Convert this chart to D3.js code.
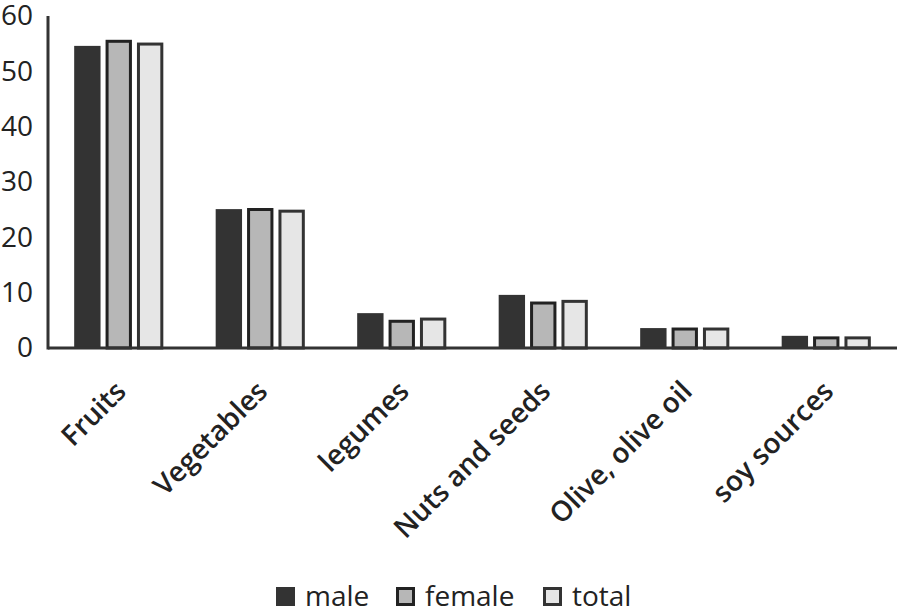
<!DOCTYPE html>
<html><head><meta charset="utf-8">
<script src="https://cdn.jsdelivr.net/npm/d3@7"></script>
<style>
html,body{margin:0;padding:0;background:#fff;}
svg{display:block;font-family:"Open Sans",sans-serif;}
</style></head>
<body>
<svg id="chart" width="904" height="616"></svg>
<script>
const categories = ["Fruits","Vegetables","legumes","Nuts and seeds","Olive, olive oil","soy sources"];
const seriesNames = ["male","female","total"];
const male   = [54.6, 25.1, 6.3, 9.6, 3.6, 2.2];
const female = [55.7, 25.3, 5.1, 8.4, 3.7, 2.1];
const total  = [55.2, 25.0, 5.5, 8.7, 3.7, 2.1];
const yTicks = [0,10,20,30,40,50,60];

const seriesValues = {male, female, total};
const fills   = {male:"#333333", female:"#b7b7b7", total:"#e6e6e6"};
const strokes = {male:"none", female:"#222222", total:"#333333"};

const svg = d3.select("#chart");
const mLeft = 48, mRight = 897, mTop = 16, mBottom = 348;

const x0 = d3.scaleBand().domain(categories).range([mLeft, mRight]).paddingInner(0.37).paddingOuter(0.185);
const x1 = d3.scaleBand().domain(seriesNames).range([0, x0.bandwidth()]).paddingInner(0.16).paddingOuter(0);
const y = d3.scaleLinear().domain([0,60]).range([mBottom, mTop]);

// bars
const g = svg.append("g");
categories.forEach((c,i)=>{
  seriesNames.forEach(s=>{
    const v = seriesValues[s][i];
    const sw = s==="male"?0:3;
    g.append("rect")
      .attr("x", x0(c)+x1(s)+sw/2)
      .attr("y", y(v)+sw/2)
      .attr("width", x1.bandwidth()-sw)
      .attr("height", y(0)-y(v)-sw/2)
      .attr("fill", fills[s])
      .attr("stroke", strokes[s])
      .attr("stroke-width", sw);
  });
});

// y axis labels
const yAxis = d3.axisLeft(y).tickValues(yTicks).tickSize(0).tickPadding(15);
const ya = svg.append("g").attr("transform",`translate(${mLeft},0)`).call(yAxis);
ya.select(".domain").remove();
ya.selectAll("text").attr("font-size",28).attr("fill","#222").attr("font-family","Open Sans");

// axis lines
svg.append("line").attr("x1",mLeft).attr("x2",mLeft).attr("y1",mTop).attr("y2",mBottom+1.5)
  .attr("stroke","#333").attr("stroke-width",3);
svg.append("line").attr("x1",mLeft).attr("x2",mRight).attr("y1",mBottom).attr("y2",mBottom)
  .attr("stroke","#333").attr("stroke-width",3);

// x labels
const xAxis = d3.axisBottom(x0).tickSize(0).tickPadding(0);
const xa = svg.append("g").attr("transform",`translate(0,${mBottom})`).call(xAxis);
xa.select(".domain").remove();
xa.selectAll("text")
  .attr("font-size",28).attr("font-weight",600).attr("fill","#222")
  .attr("font-family","Open Sans")
  .attr("text-anchor","end")
  .attr("dy",null).attr("y",null)
  .attr("transform","translate(9,45) rotate(-45)");

// legend
const legendX = {male:276, female:396, total:543};
const lg = svg.append("g");
seriesNames.forEach(s=>{
  const sw = s==="male"?0:3;
  lg.append("rect").attr("x",legendX[s]+sw/2).attr("y",587+sw/2)
    .attr("width",19-sw).attr("height",19-sw)
    .attr("fill",fills[s]).attr("stroke",strokes[s]).attr("stroke-width",sw);
  lg.append("text").attr("x",legendX[s]+29).attr("y",606)
    .attr("font-size",28).attr("fill","#222").text(s);
});
</script>
</body></html>
